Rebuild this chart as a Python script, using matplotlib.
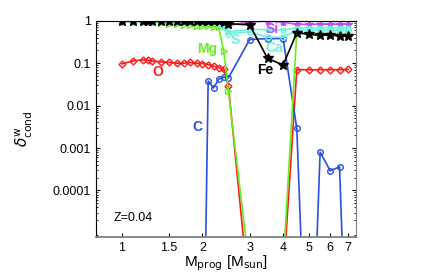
import matplotlib
matplotlib.use("Agg")
import matplotlib.pyplot as plt
import numpy as np
from matplotlib.ticker import FixedLocator, FixedFormatter, LogLocator, NullFormatter

plt.rcParams['font.family'] = ['Liberation Sans', 'DejaVu Sans']

# progenitor masses [Msun]
masses = [1.0, 1.1, 1.2, 1.25, 1.3, 1.4, 1.5, 1.6, 1.7, 1.8, 1.9, 2.0, 2.1,
          2.2, 2.3, 2.4, 2.5, 3.0, 3.5, 4.0, 4.5, 5.0, 5.5, 6.0, 6.5, 7.0]

# condensation fractions (tiny values stand for "nothing condensed")
d_O = [0.096, 0.113, 0.12, 0.117, 0.113, 0.107, 0.104, 0.100, 0.100, 0.104,
       0.100, 0.098, 0.092, 0.085, 0.078, 0.074, 0.029, 2.5e-7, 3e-7, 7.6e-7,
       0.070, 0.070, 0.070, 0.070, 0.070, 0.071]
d_C = [5e-11, 5e-11, 5e-11, 5e-11, 5e-11, 5e-11, 5e-11, 5e-11, 5e-11, 5e-11,
       5e-11, 5e-11, 0.038, 0.026, 0.042, 0.047, 0.045, 0.36, 0.38, 0.38,
       0.0029, 6e-11, 8e-4, 2.9e-4, 3.6e-4, 5e-10]
d_Mg = [0.97, 0.96, 0.95, 0.95, 0.93, 0.90, 0.85, 0.83, 0.80, 0.78, 0.77,
        0.75, 0.74, 0.72, 0.70, 0.19, 0.022, 1.3e-6, 1.3e-6, 1.6e-6, 0.55,
        0.47, 0.45, 0.47, 0.47, 0.48]
d_Si = [0.99, 0.99, 0.99, 0.99, 0.99, 0.99, 0.99, 0.99, 0.99, 0.99, 0.99,
        0.99, 0.99, 0.99, 0.99, 0.97, 0.78, 0.93, 0.99, 0.93, 0.82, 0.82,
        0.83, 0.83, 0.82, 0.83]
d_S = [0.97, 0.97, 0.97, 0.97, 0.97, 0.97, 0.97, 0.97, 0.97, 0.97, 0.97,
       0.97, 0.97, 0.97, 0.85, 0.75, 0.55, 0.62, 0.62, 0.60, 0.68, 0.68,
       0.68, 0.68, 0.68, 0.68]
d_Ca = [0.95, 0.95, 0.95, 0.95, 0.95, 0.95, 0.95, 0.95, 0.95, 0.95, 0.95,
        0.95, 0.95, 0.95, 0.82, 0.70, 0.50, 0.55, 0.41, 0.41, 0.60, 0.60,
        0.60, 0.60, 0.60, 0.60]
d_Fe = [0.99, 0.99, 0.99, 0.99, 0.99, 0.99, 0.99, 0.99, 0.99, 0.99, 0.99,
        0.99, 0.99, 0.98, 0.97, 0.93, 0.85, 0.80, 0.13, 0.09, 0.52, 0.48,
        0.46, 0.46, 0.44, 0.44]

fig = plt.figure(figsize=(4.36, 2.73), dpi=100)
ax = fig.add_axes([0.220, 0.132, 0.597, 0.792])

lw = 1.2
ax.plot(masses, d_O, color="#ff1a1a", marker="D", ms=3.5, mfc="none", mew=1.0, lw=lw)
ax.plot(masses, d_C, color="#2a4fe0", marker="o", ms=4, mfc="none", mew=1.0, lw=lw)
ax.plot(masses, d_Mg, color="#66ee22", marker=">", ms=4, mfc="none", mew=1.0, lw=lw)
ax.plot(masses, d_Si, color="#c050f0", marker="*", ms=6, lw=lw)
ax.plot(masses, d_S, color="#70f0e0", marker="s", ms=3.5, mfc="none", mew=1.0, lw=lw)
ax.plot(masses, d_Ca, color="#70f0e0", marker="o", ms=4, mfc="none", mew=1.0, lw=lw)
ax.plot(masses, d_Fe, color="black", marker="*", ms=7.5, lw=lw)

ax.set_xscale("log")
ax.set_yscale("log")
ax.set_xlim(0.8, 7.5)
ax.set_ylim(8e-6, 1)

xt = [1, 1.5, 2, 3, 4, 5, 6, 7]
ax.xaxis.set_major_locator(FixedLocator(xt))
ax.xaxis.set_major_formatter(FixedFormatter(["1", "1.5", "2", "3", "4", "5", "6", "7"]))
ax.xaxis.set_minor_locator(FixedLocator([]))
yt = [1e-4, 1e-3, 1e-2, 1e-1, 1]
ax.yaxis.set_major_locator(FixedLocator(yt))
ax.yaxis.set_major_formatter(FixedFormatter(["0.0001", "0.001", "0.01", "0.1", "1"]))
ax.yaxis.set_minor_locator(LogLocator(base=10, subs=np.arange(2, 10)))
ax.yaxis.set_minor_formatter(NullFormatter())

ax.tick_params(which="both", direction="in", top=True, right=True, labelsize=9)
ax.tick_params(which="major", length=3)
ax.tick_params(which="minor", length=1.5)
for side in ["bottom", "right"]:
    ax.spines[side].set_color("#808080")
ax.spines["bottom"].set_linewidth(1.3)

ax.set_xlabel(r"M$_{\rm prog}$ [M$_{\rm sun}$]", fontsize=11, labelpad=0)
ax.set_ylabel(r"$\delta^{\rm w}_{\rm cond}$", fontsize=11, labelpad=13)

lab = dict(fontsize=10, fontweight="bold", ha="center", va="center")
ax.text(1.36, 0.062, "O", color="#ff1a1a", **lab)
ax.text(1.92, 0.0031, "C", color="#2a4fe0", **lab)
ax.text(2.09, 0.22, "Mg", color="#66ee22", **lab)
ax.text(3.65, 0.63, "Si", color="#c050f0", **lab)
ax.text(2.64, 0.36, "S", color="#70f0e0", **lab)
ax.text(3.70, 0.23, "Ca", color="#70f0e0", **lab)
ax.text(3.44, 0.068, "Fe", color="black", **lab)
ax.text(0.935, 2.2e-5, "Z=0.04", fontsize=9, ha="left", va="center")

plt.savefig("out.png", dpi=100)
